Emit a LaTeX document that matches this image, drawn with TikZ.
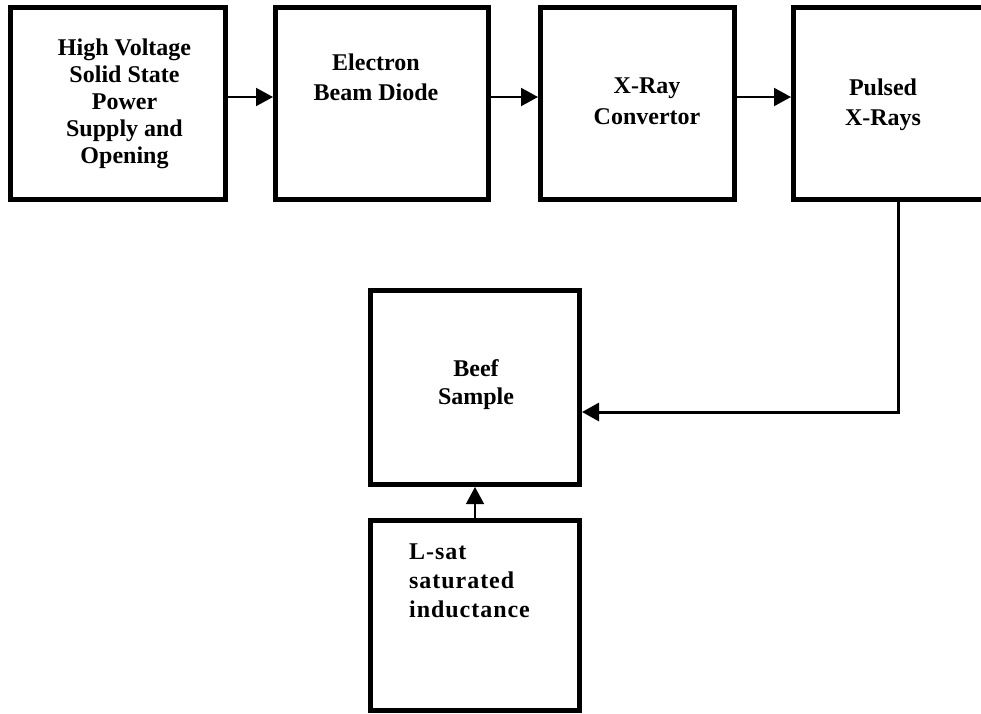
\documentclass[tikz,border=0pt]{standalone}
\usepackage{fontspec}
\setmainfont{Liberation Serif}
\usetikzlibrary{positioning,arrows.meta}
\tikzset{blockbox/.style={draw=black, line width=5pt, minimum width=#1, minimum height=192pt, inner sep=0pt},
boxtext/.style={font=\bfseries\fontsize{24}{#1}\selectfont, align=center, inner sep=0pt},
link/.style={line width=2pt, -{Triangle[length=17pt,width=18pt]}},}

\begin{document}
\begin{tikzpicture}[x=1pt, y=-1pt]
\useasboundingbox (0,0) rectangle (981,713);
\node [blockbox=215pt] (supply) at (118,103.5) {};
\node [blockbox=213pt] (diode) [right=45pt of supply] {};
\node [blockbox=194pt] (conv) [right=47pt of diode] {};
\node [blockbox=209pt] (pulse) [right=54pt of conv] {};
\node [blockbox=209pt, minimum height=194pt] (beef) at (475,387.5) {};
\node [blockbox=209pt, minimum height=190pt] (lsat) [below=31pt of beef] {};
\node [boxtext=27pt] (supplytxt) at (124.5,104) {High Voltage\\Solid State\\Power\\Supply and\\Opening};
\node [boxtext=30pt] (diodetxt) at (376,77) {Electron\\Beam Diode};
\node [boxtext=31pt] (convtxt) at (647,101.5) {X-Ray\\Convertor};
\node [boxtext=30pt] (pulsetxt) at (883,105) {Pulsed\\X-Rays};
\node [boxtext=28pt] (beeftxt) at (476,385) {Beef\\Sample};
\node [boxtext=29pt, align=left, anchor=west] (lsattxt) at (409,580.5) {\addfontfeature{LetterSpace=4}L-sat\\\addfontfeature{LetterSpace=4}saturated\\\addfontfeature{LetterSpace=4}inductance};
\draw[link] ([yshift=6.5pt]supply.east) -- ([yshift=6.5pt]diode.west);
\draw[link] ([yshift=6.5pt]diode.east) -- ([yshift=6.5pt]conv.west);
\draw[link] ([yshift=6.5pt]conv.east) -- ([yshift=6.5pt]pulse.west);
\draw[link, line width=3pt] (pulse.south) |- ([yshift=-24.5pt]beef.east);
\draw[link, line width=1.5pt] (lsat.north) -- (beef.south);
\end{tikzpicture}
\end{document}
